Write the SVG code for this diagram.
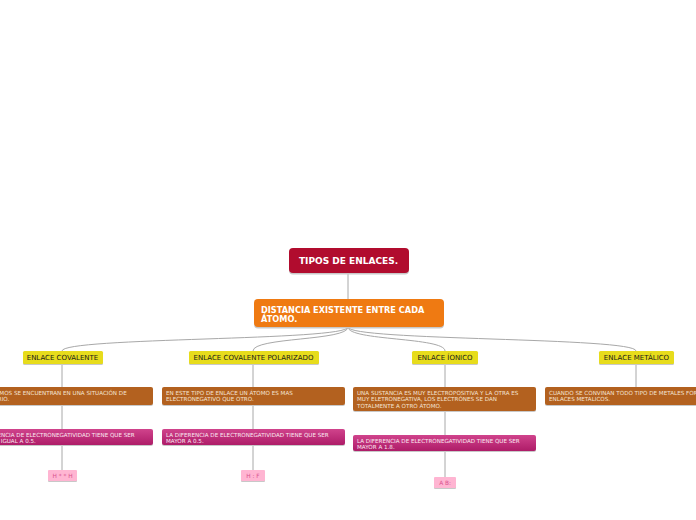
<svg xmlns="http://www.w3.org/2000/svg" width="696" height="520" viewBox="0 0 696 520">
<defs>
<linearGradient id="gPink" x1="0" y1="0" x2="0" y2="1">
<stop offset="0" stop-color="#d0438c"/>
<stop offset="1" stop-color="#ae1c68"/>
</linearGradient>
<style>
.con{fill:none;stroke:#a8a8a8;stroke-width:1}
.sh{fill:#c8c8c8}
.root{fill:#b10c2e}
.orange{fill:#ef7a12}
.yellow{fill:#e7dc1c}
.brown{fill:#b3611f}
.pink{fill:url(#gPink)}
.lpink{fill:#ffb5d2}
.tb{font-family:"DejaVu Sans","Liberation Sans",sans-serif;font-weight:bold;fill:#ffffff}
.ty{font-family:"DejaVu Sans","Liberation Sans",sans-serif;font-size:7px;fill:#1a1a1a}
.ts{font-family:"DejaVu Sans","Liberation Sans",sans-serif;font-size:5.6px;fill:#f3e3d3}
.tp{font-family:"DejaVu Sans","Liberation Sans",sans-serif;font-size:5.6px;fill:#fbe8f1}
.tl{font-family:"DejaVu Sans","Liberation Sans",sans-serif;font-size:5.8px;fill:#d9538f}
</style>
</defs>
<rect width="696" height="520" fill="#ffffff"/>
<g id="connectors">
<path class="con" d="M348,273 L348,299"/>
<path class="con" d="M348,327 C348,341 62,337 62,351"/>
<path class="con" d="M348,327 C348,341 253,337 253,351"/>
<path class="con" d="M348,327 C348,341 445,337 445,351"/>
<path class="con" d="M348,327 C348,341 636,337 636,351"/>
<path class="con" d="M62,364 L62,387 M62,405 L62,429 M62,445 L62,470"/>
<path class="con" d="M253,364 L253,387 M253,405 L253,429 M253,445 L253,470"/>
<path class="con" d="M445,364 L445,387 M445,411 L445,435 M445,451 L445,477"/>
<path class="con" d="M636,364 L636,387"/>
</g>
<g id="root">
<rect class="sh" x="289" y="249.5" width="120" height="25" rx="4"/>
<rect class="root" x="289" y="248" width="120" height="25" rx="4"/>
<text class="tb" x="348.5" y="264" font-size="9px" text-anchor="middle">TIPOS DE ENLACES.</text>
</g>
<g id="distancia">
<rect class="sh" x="254" y="300.5" width="190" height="28" rx="4"/>
<rect class="orange" x="254" y="299" width="190" height="28" rx="4"/>
<text class="tb" x="261" y="312.5" font-size="8.2px">DISTANCIA EXISTENTE ENTRE CADA</text>
<text class="tb" x="261" y="321.5" font-size="8.2px">ÁTOMO.</text>
</g>
<g id="covalente">
<rect class="sh" x="23" y="352" width="80" height="13" rx="1.5"/>
<rect class="yellow" x="23" y="351" width="80" height="13" rx="1.5"/>
<text class="ty" x="62.5" y="360.3" text-anchor="middle">ENLACE COVALENTE</text>
</g>
<g id="covalente-desc">
<rect class="sh" x="-29" y="388" width="182" height="18" rx="2"/>
<rect class="brown" x="-29" y="387" width="182" height="18" rx="2"/>
<text class="ts" x="-24.5" y="394.8">LOS ÁTOMOS SE ENCUENTRAN EN UNA SITUACIÓN DE</text>
<text class="ts" x="-24.5" y="401.3">EQUILIBRIO.</text>
</g>
<g id="covalente-dif">
<rect class="sh" x="-29" y="430" width="182" height="16" rx="2"/>
<rect class="pink" x="-29" y="429" width="182" height="16" rx="2"/>
<text class="tp" x="-28" y="436.5">LA DIFERENCIA DE ELECTRONEGATIVIDAD TIENE QUE SER</text>
<text class="tp" x="-28" y="442.8">MENOR O IGUAL A 0.5.</text>
</g>
<g id="covalente-ej">
<rect class="sh" x="48" y="471" width="29" height="11" rx="1"/>
<rect class="lpink" x="48" y="470" width="29" height="11" rx="1"/>
<text class="tl" x="62.5" y="478" text-anchor="middle">H * * H</text>
</g>
<g id="polarizado">
<rect class="sh" x="189" y="352" width="130" height="13" rx="1.5"/>
<rect class="yellow" x="189" y="351" width="130" height="13" rx="1.5"/>
<text class="ty" x="253.5" y="360.3" text-anchor="middle">ENLACE COVALENTE POLARIZADO</text>
</g>
<g id="polarizado-desc">
<rect class="sh" x="162" y="388" width="183" height="18" rx="2"/>
<rect class="brown" x="162" y="387" width="183" height="18" rx="2"/>
<text class="ts" x="166" y="394.8">EN ESTE TIPO DE ENLACE UN ÁTOMO ES MAS</text>
<text class="ts" x="166" y="401.3">ELECTRONEGATIVO QUE OTRO.</text>
</g>
<g id="polarizado-dif">
<rect class="sh" x="162" y="430" width="183" height="16" rx="2"/>
<rect class="pink" x="162" y="429" width="183" height="16" rx="2"/>
<text class="tp" x="166" y="436.5">LA DIFERENCIA DE ELECTRONEGATIVIDAD TIENE QUE SER</text>
<text class="tp" x="166" y="442.8">MAYOR A 0.5.</text>
</g>
<g id="polarizado-ej">
<rect class="sh" x="241" y="471" width="24" height="11" rx="1"/>
<rect class="lpink" x="241" y="470" width="24" height="11" rx="1"/>
<text class="tl" x="253" y="478" text-anchor="middle">H  : F</text>
</g>
<g id="ionico">
<rect class="sh" x="412" y="352" width="66" height="13" rx="1.5"/>
<rect class="yellow" x="412" y="351" width="66" height="13" rx="1.5"/>
<text class="ty" x="445" y="360.3" text-anchor="middle">ENLACE ÍONICO</text>
</g>
<g id="ionico-desc">
<rect class="sh" x="353" y="388" width="183" height="24" rx="2"/>
<rect class="brown" x="353" y="387" width="183" height="24" rx="2"/>
<text class="ts" x="357" y="394.8">UNA SUSTANCIA ES MUY ELECTROPOSITIVA Y LA OTRA ES</text>
<text class="ts" x="357" y="401.3">MUY ELETRONEGATIVA, LOS ELECTRÓNES SE DAN</text>
<text class="ts" x="357" y="407.8">TOTALMENTE A OTRO ÁTOMO.</text>
</g>
<g id="ionico-dif">
<rect class="sh" x="353" y="436" width="183" height="16" rx="2"/>
<rect class="pink" x="353" y="435" width="183" height="16" rx="2"/>
<text class="tp" x="357" y="442.5">LA DIFERENCIA DE ELECTRONEGATIVIDAD TIENE QUE SER</text>
<text class="tp" x="357" y="448.8">MAYOR A 1.8.</text>
</g>
<g id="ionico-ej">
<rect class="sh" x="434" y="478" width="22" height="11" rx="1"/>
<rect class="lpink" x="434" y="477" width="22" height="11" rx="1"/>
<text class="tl" x="445" y="485" text-anchor="middle">A  B:</text>
</g>
<g id="metalico">
<rect class="sh" x="599" y="352" width="75" height="13" rx="1.5"/>
<rect class="yellow" x="599" y="351" width="75" height="13" rx="1.5"/>
<text class="ty" x="636.5" y="360.3" text-anchor="middle">ENLACE METÁLICO</text>
</g>
<g id="metalico-desc">
<rect class="sh" x="545" y="388" width="183" height="18" rx="2"/>
<rect class="brown" x="545" y="387" width="183" height="18" rx="2"/>
<text class="ts" x="549" y="394.8">CUANDO SE CONVINAN TODO TIPO DE METALES FORMAN</text>
<text class="ts" x="549" y="401.3">ENLACES METALICOS.</text>
</g>
</svg>
